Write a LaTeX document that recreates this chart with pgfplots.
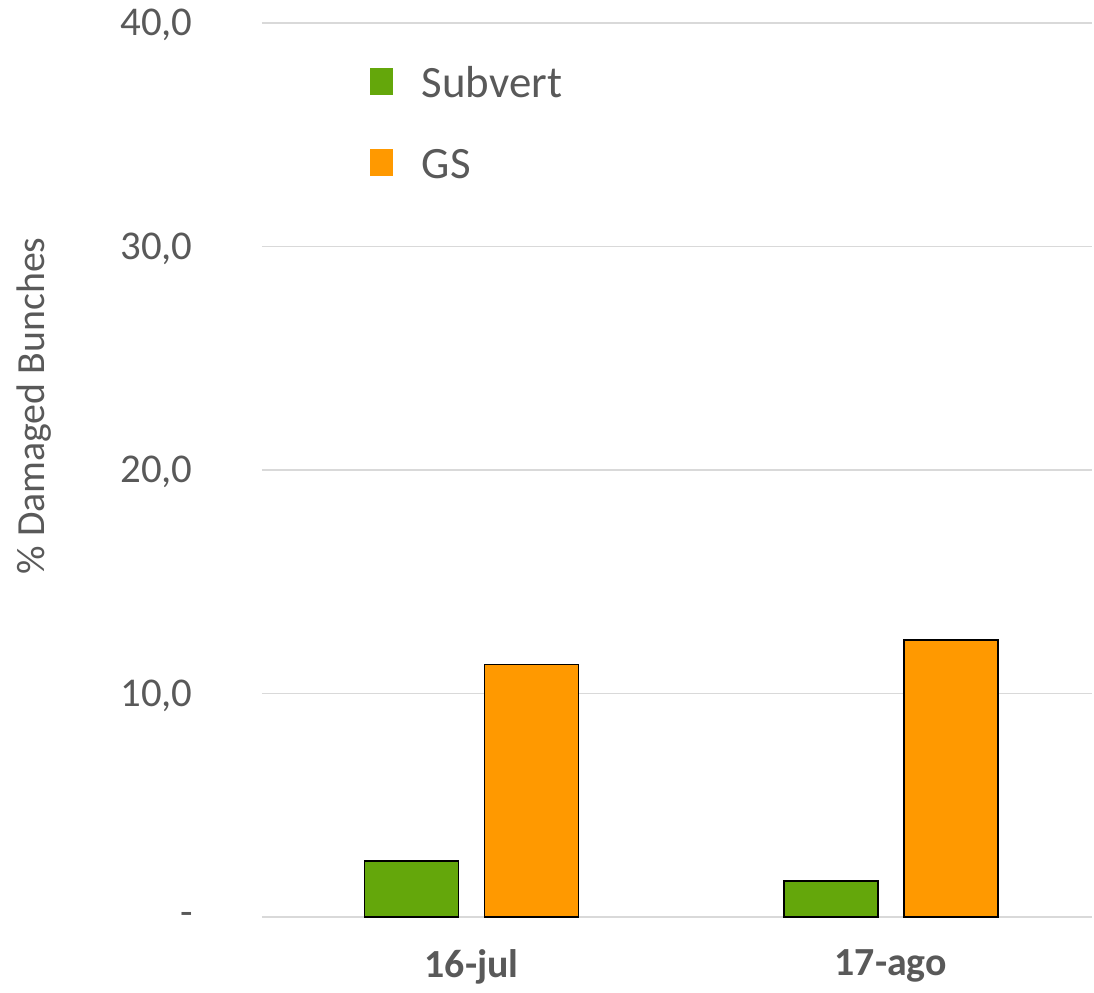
\documentclass[border=0pt]{standalone}
\usepackage{fontspec}
\setmainfont{Carlito}
\usepackage{pgfplots}
\pgfplotsset{compat=1.18}
\definecolor{subgreen}{RGB}{100,167,11}
\definecolor{gsorange}{RGB}{255,153,0}
\definecolor{txtgray}{RGB}{89,89,89}
\definecolor{gridgray}{RGB}{217,217,217}

\begin{document}
\begin{tikzpicture}
\path[use as bounding box] (-131bp,-38bp) rectangle (416bp,458.5bp);
\begin{axis}[
	name=ax, scale only axis, width=415bp, height=447bp,
	ybar=13bp, bar width=47bp,
	xmin=-0.5, xmax=1.48, ymin=0, ymax=40,
	xtick={0,1}, xticklabels={16-jul,17-ago},
	ytick={0,10,20,30,40},
	yticklabels={{-\hspace{10bp}},{10,0},{20,0},{30,0},{40,0}},
	ymajorgrids, grid style={gridgray, line width=0.75bp},
	axis line style={draw=none}, major tick length=0pt,
	tick label style={text=txtgray, inner sep=0pt},
	xticklabel style={font=\fontsize{20}{24}\selectfont\bfseries, anchor=north, yshift=-16bp},
	yticklabel style={font=\fontsize{20.5}{24}\selectfont, anchor=east, xshift=-34.5bp, yshift=-1bp},
	ylabel={\% Damaged Bunches},
	ylabel style={font=\fontsize{20}{22}\selectfont, text=txtgray,
		at={(axis description cs:-0.2747,0.5716)}, anchor=center, rotate=0},
	legend style={at={(axis description cs:0.130,0.953)}, anchor=north west,
		draw=none, fill=none, inner sep=0pt, column sep=14.5bp, row sep=20.5bp,
		font=\fontsize{22.5}{27}\selectfont, text=txtgray,
		nodes={inner sep=0pt, text height=16bp, text depth=4bp}},
	legend cell align=left,
	]
	\addplot[fill=subgreen, draw=black, line width=0.75bp,
		legend image code/.code={\fill[subgreen] (0,-4.3bp) rectangle (10.5bp,8.2bp);}]
		coordinates {(0,2.5) (1,1.6)};
	\addplot[fill=gsorange, draw=black, line width=0.75bp,
		legend image code/.code={\fill[gsorange] (0,-4.3bp) rectangle (10.5bp,8.2bp);}]
		coordinates {(0,11.3) (1,12.4)};
	\legend{Subvert,GS}
\end{axis}
\end{tikzpicture}
\end{document}
